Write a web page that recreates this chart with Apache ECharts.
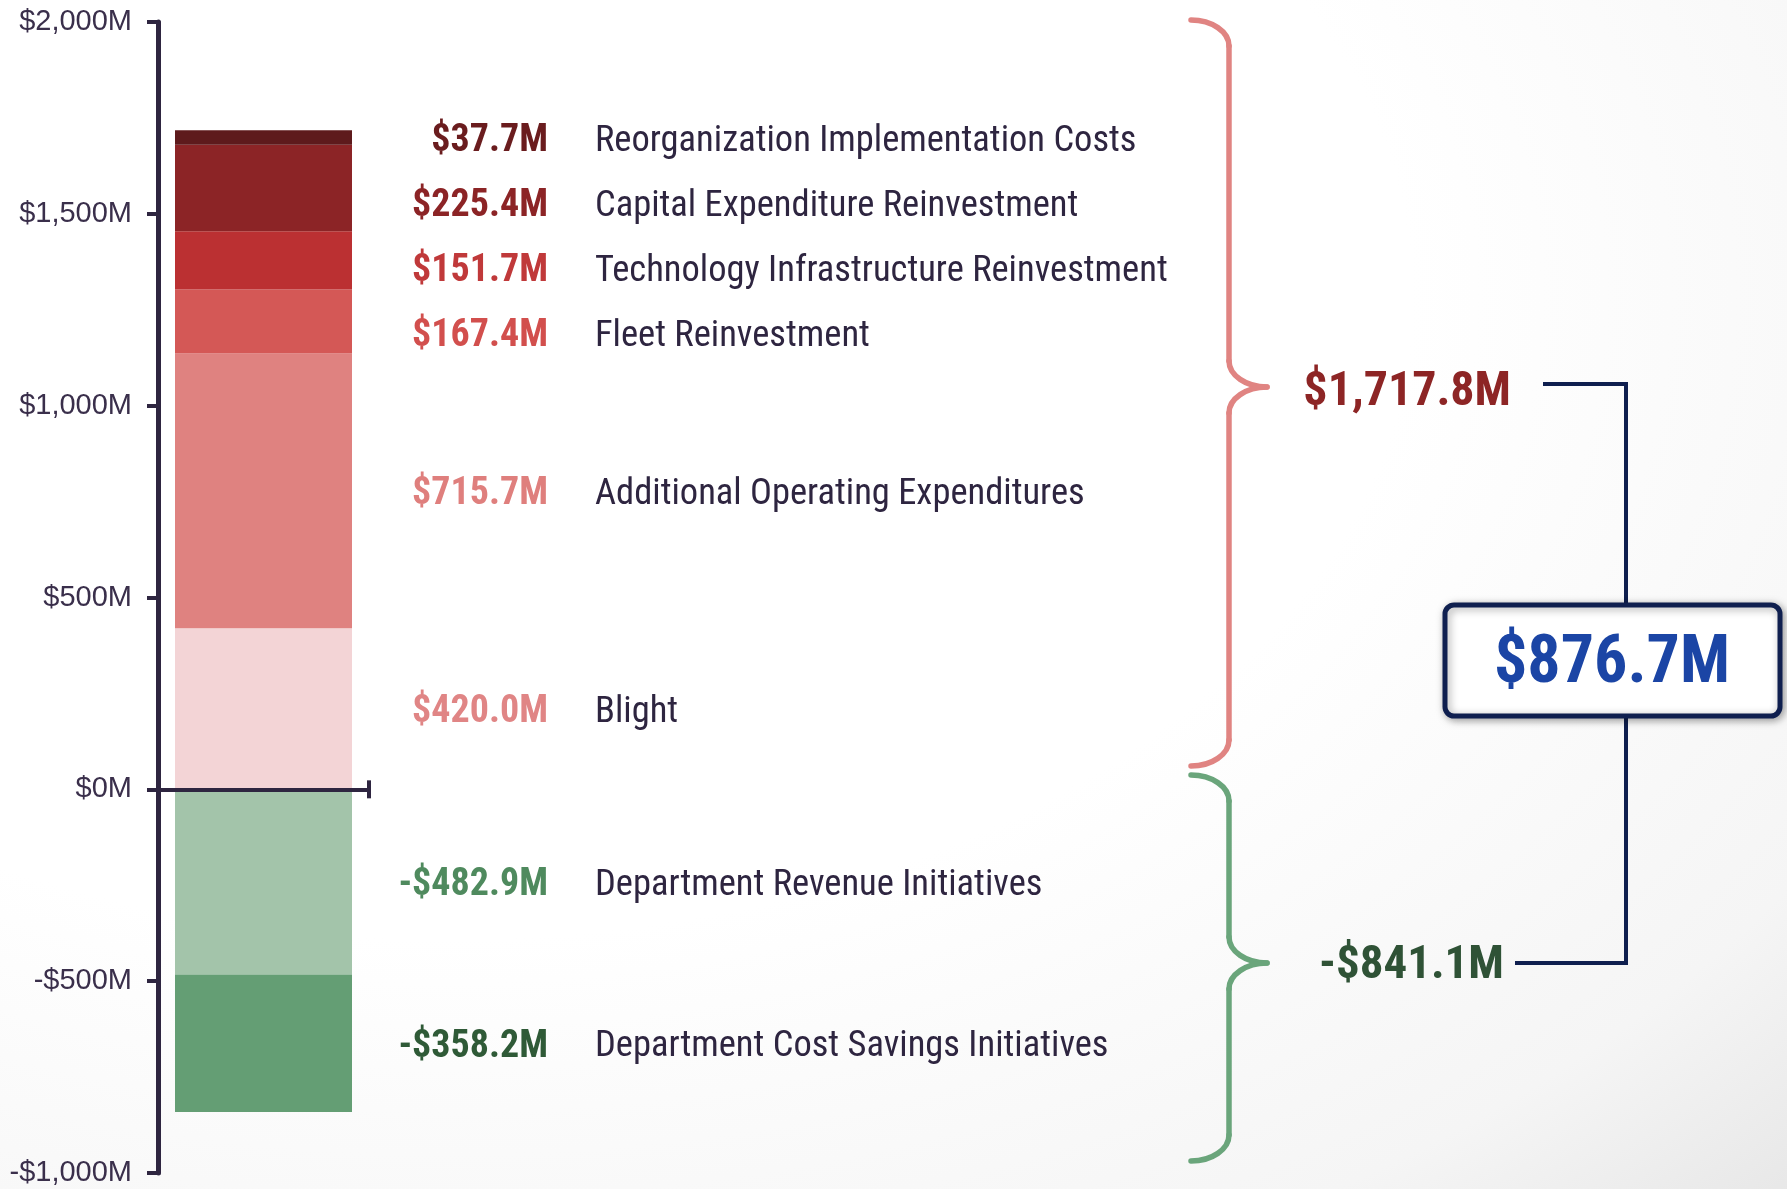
<!DOCTYPE html>
<html>
<head>
<meta charset="utf-8">
<script src="https://cdn.jsdelivr.net/npm/echarts@6/dist/echarts.min.js"></script>
<style>
  html, body { margin: 0; padding: 0; width: 1787px; height: 1189px; overflow: hidden; }
  body { background: radial-gradient(ellipse 120% 120% at 25% 25%, #ffffff 45%, #f5f5f5 75%, #dcdcdc 100%); }
  #chart { width: 1787px; height: 1189px; }
</style>
</head>
<body>
<div id="chart"></div>
<script>
// stacking order: positives from zero upward, then negatives from zero downward
const categories = [
  "Blight",
  "Additional Operating Expenditures",
  "Fleet Reinvestment",
  "Technology Infrastructure Reinvestment",
  "Capital Expenditure Reinvestment",
  "Reorganization Implementation Costs",
  "Department Revenue Initiatives",
  "Department Cost Savings Initiatives"
];
const values = [420.0, 715.7, 167.4, 151.7, 225.4, 37.7, -482.9, -358.2];
const positiveTotal = 1717.8;
const negativeTotal = -841.1;
const netTotal = 876.7;

const barColors = ["#f3d4d6", "#df8280", "#d45856", "#bb3032", "#8c2426", "#5e1a1c", "#a3c4aa", "#649e74"];
const valueColors = ["#e08585", "#df7f7d", "#d24f4d", "#c0393a", "#8c2426", "#6a1c1e", "#4f8a5e", "#2f5a37"];

const ink = "#2e2540";
const navy = "#0f1f4f";
const condensed = "'Roboto Condensed','Liberation Sans Narrow','DejaVu Sans Condensed',Roboto,sans-serif";
const valueFont = 38;
const valueBox = 188; // values are right-aligned inside this width

const money = (v) => (v < 0 ? "-$" : "$") + Math.abs(v).toLocaleString("en-US", { minimumFractionDigits: 1, maximumFractionDigits: 1 }) + "M";

const measure = document.createElement("canvas").getContext("2d");
function textWidth(text, font) {
  measure.font = font;
  return measure.measureText(text).width;
}

// curly brace built from curves and straight runs
function brace(x0, xl, xt, yTop, yMid, yBot, color) {
  const style = { fill: null, stroke: color, lineWidth: 5.5, lineCap: "round" };
  const rx = xl - x0, ry = 26;
  return {
    type: "group",
    children: [
      { type: "bezierCurve", shape: { x1: x0, y1: yTop, cpx1: x0 + rx * 0.55, cpy1: yTop, cpx2: xl, cpy2: yTop + ry * 0.45, x2: xl, y2: yTop + ry }, style },
      { type: "line", shape: { x1: xl, y1: yTop + ry, x2: xl, y2: yMid - ry }, style },
      { type: "bezierCurve", shape: { x1: xl, y1: yMid - ry, cpx1: xl, cpy1: yMid - ry * 0.45, cpx2: xt - rx * 0.55, cpy2: yMid, x2: xt, y2: yMid }, style },
      { type: "bezierCurve", shape: { x1: xt, y1: yMid, cpx1: xt - rx * 0.55, cpy1: yMid, cpx2: xl, cpy2: yMid + ry * 0.45, x2: xl, y2: yMid + ry }, style },
      { type: "line", shape: { x1: xl, y1: yMid + ry, x2: xl, y2: yBot - ry }, style },
      { type: "bezierCurve", shape: { x1: xl, y1: yBot - ry, cpx1: xl, cpy1: yBot - ry * 0.45, cpx2: x0 + rx * 0.55, cpy2: yBot, x2: x0, y2: yBot }, style }
    ]
  };
}

const chart = echarts.init(document.getElementById("chart"));

const option = {
  animation: false,
  grid: { left: 158, top: 22, bottom: 16, width: 211 },
  xAxis: {
    type: "category",
    data: [""],
    z: 10,
    axisLine: {
      onZero: true,
      symbol: ["none", "rect"],
      symbolSize: [18, 4],
      lineStyle: { color: ink, width: 4 }
    },
    axisTick: { show: false },
    axisLabel: { show: false },
    splitLine: { show: false }
  },
  yAxis: {
    type: "value",
    min: -1000,
    max: 2000,
    interval: 500,
    axisLine: { show: true, onZero: false, lineStyle: { color: ink, width: 5 } },
    axisTick: { show: true, length: 11, lineStyle: { color: ink, width: 4 } },
    splitLine: { show: false },
    axisLabel: {
      margin: 26,
      color: "#3a2f4b",
      fontSize: 29,
      fontFamily: "'Liberation Sans', Arial, sans-serif",
      formatter: (v) => (v < 0 ? "-$" : "$") + Math.abs(v).toLocaleString("en-US") + "M"
    }
  },
  series: categories.map((name, i) => {
    const txt = money(values[i]);
    const pad = Math.max(0, valueBox - textWidth(txt, "bold " + valueFont + "px " + condensed));
    return {
      name: name,
      type: "bar",
      stack: "total",
      barWidth: 177,
      silent: true,
      data: [values[i]],
      itemStyle: { color: barColors[i] },
      label: {
        show: true,
        position: "right",
        distance: 8,
        formatter: "{v|" + txt + "}{n|" + name + "}",
        rich: {
          v: { padding: [0, 0, 0, pad], fontFamily: condensed, fontWeight: "bold", fontSize: valueFont, color: valueColors[i] },
          n: { padding: [0, 0, 0, 47], fontFamily: condensed, fontSize: 36.5, color: ink }
        }
      }
    };
  }),
  graphic: [
    brace(1191, 1229, 1267, 20, 387, 766, "#e08482"),
    brace(1191, 1229, 1267, 775, 963, 1161, "#6aa57b"),
    {
      type: "polyline",
      shape: { points: [[1543, 384], [1626, 384], [1626, 963], [1515, 963]] },
      style: { fill: null, stroke: navy, lineWidth: 4 }
    },
    {
      type: "text",
      x: 1511, y: 393,
      style: { text: money(positiveTotal), align: "right", verticalAlign: "middle", fontFamily: condensed, fontWeight: "bold", fontSize: 48, fill: "#8d2525" }
    },
    {
      type: "text",
      x: 1504, y: 966,
      style: { text: money(negativeTotal), align: "right", verticalAlign: "middle", fontFamily: condensed, fontWeight: "bold", fontSize: 47, fill: "#2f5236" }
    },
    {
      type: "rect",
      shape: { x: 1445, y: 605, width: 335, height: 111, r: 9 },
      style: { fill: "#ffffff", stroke: navy, lineWidth: 5, shadowBlur: 8, shadowColor: "rgba(0,0,0,0.35)", shadowOffsetX: 2, shadowOffsetY: 2 }
    },
    {
      type: "text",
      x: 1612, y: 665,
      style: { text: money(netTotal), align: "center", verticalAlign: "middle", fontFamily: condensed, fontWeight: "bold", fontSize: 66, fill: "#1b45a5" }
    }
  ]
};

chart.setOption(option);

// spread the labels of the thin top segments so they do not crowd
const minGap = 65;
const sums = { pos: 0, neg: 0 };
const centers = values.map((v) => {
  const key = v >= 0 ? "pos" : "neg";
  const mid = sums[key] + v / 2;
  sums[key] += v;
  return chart.convertToPixel({ yAxisIndex: 0 }, mid);
});
const order = centers.map((c, i) => i).sort((a, b) => centers[a] - centers[b]);
const offsets = values.map(() => 0);
let last = -Infinity;
order.forEach((i) => {
  const y = Math.max(centers[i], last + minGap);
  offsets[i] = y - centers[i] + 4;
  last = y;
});
chart.setOption({ series: offsets.map((o) => ({ label: { offset: [0, o] } })) });
</script>
</body>
</html>
